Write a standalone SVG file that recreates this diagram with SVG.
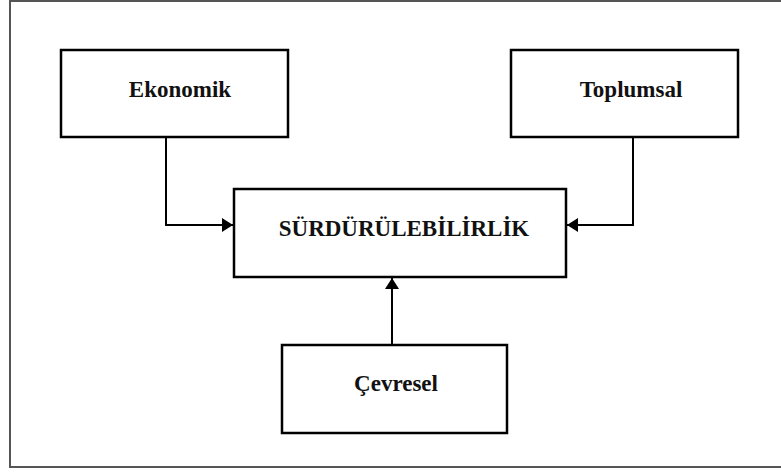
<svg xmlns="http://www.w3.org/2000/svg" width="781" height="472" viewBox="0 0 781 472">
<style>
.frame{fill:none;stroke:#555;stroke-width:2}
.box{fill:#fff;stroke:#000;stroke-width:2.5}
.lbl{font-family:"Liberation Serif","Times New Roman",serif;font-weight:bold;font-size:23px;fill:#111;text-anchor:middle}
.conn{fill:none;stroke:#000;stroke-width:2}
</style>
<defs>
<marker id="ah" viewBox="0 0 11 14" refX="11" refY="7" markerWidth="11" markerHeight="14" markerUnits="userSpaceOnUse" orient="auto">
<path d="M0,0 L11,7 L0,14 Z" fill="#000"/>
</marker>
</defs>
<rect class="frame" x="10" y="1" width="800" height="466"/>
<g id="connectors">
<path class="conn" d="M166,137 V225 H233" marker-end="url(#ah)"/>
<path class="conn" d="M633,137 V225 H567" marker-end="url(#ah)"/>
<path class="conn" d="M392,345 V278" marker-end="url(#ah)"/>
</g>
<g id="ekonomik">
<rect class="box" x="61" y="50" width="227" height="87"/>
<text class="lbl" x="180" y="97">Ekonomik</text>
</g>
<g id="toplumsal">
<rect class="box" x="511" y="50" width="227" height="87"/>
<text class="lbl" x="631" y="97">Toplumsal</text>
</g>
<g id="surdurulebilirlik">
<rect class="box" x="234" y="189" width="332" height="88"/>
<text class="lbl" x="404" y="236">SÜRDÜRÜLEBİLİRLİK</text>
</g>
<g id="cevresel">
<rect class="box" x="282" y="345" width="225" height="88"/>
<text class="lbl" x="396" y="391">Çevresel</text>
</g>
</svg>
